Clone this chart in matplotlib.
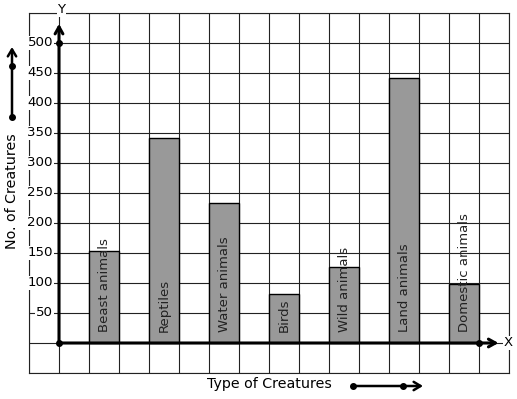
import matplotlib

matplotlib.use("Agg")

import matplotlib.pyplot as plt

# values
categories = [
    "Beast animals",
    "Reptiles",
    "Water animals",
    "Birds",
    "Wild animals",
    "Land animals",
    "Domestic animals",
]
counts = [153, 342, 233, 82, 127, 442, 98]
y_tick_values = [50, 100, 150, 200, 250, 300, 350, 400, 450, 500]

GRID_COLOR = "#222222"
BAR_COLOR = "#999999"


def main() -> None:
    fig = plt.figure(figsize=(5.17, 3.99), dpi=100)
    ax = fig.add_axes([29 / 517, 26 / 399, 480 / 517, 360 / 399])

    ax.set_xlim(-1, 15)
    ax.set_ylim(-50, 550)
    ax.set_xticks(range(-1, 16))
    ax.set_yticks(range(-50, 551, 50))
    ax.tick_params(length=0, labelbottom=False, labelleft=False)
    ax.grid(True, color=GRID_COLOR, linewidth=0.8)
    ax.set_axisbelow(True)
    for spine in ax.spines.values():
        spine.set_color(GRID_COLOR)
        spine.set_linewidth(0.8)

    # bars: one grid cell wide, every other cell
    positions = [2 * i + 1 for i in range(len(categories))]
    ax.bar(positions, counts, width=1, align="edge", color=BAR_COLOR,
           edgecolor="black", linewidth=1, zorder=2)
    for pos, name in zip(positions, categories):
        ax.text(pos + 0.5, 18, name, rotation=90, ha="center", va="bottom",
                fontsize=9.5, color="#222222", zorder=3)

    # y tick labels sitting on the grid lines
    for v in y_tick_values:
        ax.text(-0.2, v, str(v), ha="right", va="center", fontsize=9.6,
                bbox=dict(fc="white", ec="none", pad=0.6), zorder=3)

    # axes with arrows
    arrow = dict(arrowstyle="->,head_length=0.5,head_width=0.28", lw=2.2,
                 color="black", shrinkA=0, shrinkB=0)
    ax.annotate("", xy=(0, 532), xytext=(0, 0), arrowprops=arrow, zorder=4)
    ax.annotate("", xy=(14.65, 0), xytext=(0, 0), arrowprops=arrow, zorder=4)
    ax.plot([0, 0, 14], [500, 0, 0], "ko", ms=4, zorder=5, clip_on=False)
    ax.text(0.08, 555, "Y", ha="center", va="center", fontsize=9.5,
            bbox=dict(fc="white", ec="none", pad=0.5), zorder=5, clip_on=False)
    ax.text(14.97, 0, "X", ha="center", va="center", fontsize=9.5,
            bbox=dict(fc="white", ec="none", pad=0.5), zorder=5, clip_on=False)

    # axis titles with their little arrows, in figure pixels
    fig.text(12 / 517, (399 - 191) / 399, "No. of Creatures", rotation=90,
             ha="center", va="center", fontsize=10.3)
    fig.text(269 / 517, (399 - 384) / 399, "Type of Creatures",
             ha="center", va="center", fontsize=10.3)
    small_arrow = dict(arrowstyle="->,head_length=0.5,head_width=0.3", lw=1.8,
                       color="black", shrinkA=0, shrinkB=0)
    ax.annotate("", xy=(12, 399 - 47), xytext=(12, 399 - 117),
                xycoords="figure pixels", textcoords="figure pixels",
                arrowprops=small_arrow)
    ax.annotate("", xy=(423, 399 - 386), xytext=(353, 399 - 386),
                xycoords="figure pixels", textcoords="figure pixels",
                arrowprops=small_arrow)
    fig.lines.append(plt.Line2D([12, 12], [399 - 117, 399 - 66], ls="none",
                                marker="o", ms=4, color="black",
                                transform=None))
    fig.lines.append(plt.Line2D([353, 403], [399 - 386, 399 - 386], ls="none",
                                marker="o", ms=4, color="black",
                                transform=None))

    fig.savefig("out.png", dpi=100)
    plt.close(fig)


if __name__ == "__main__":
    main()
